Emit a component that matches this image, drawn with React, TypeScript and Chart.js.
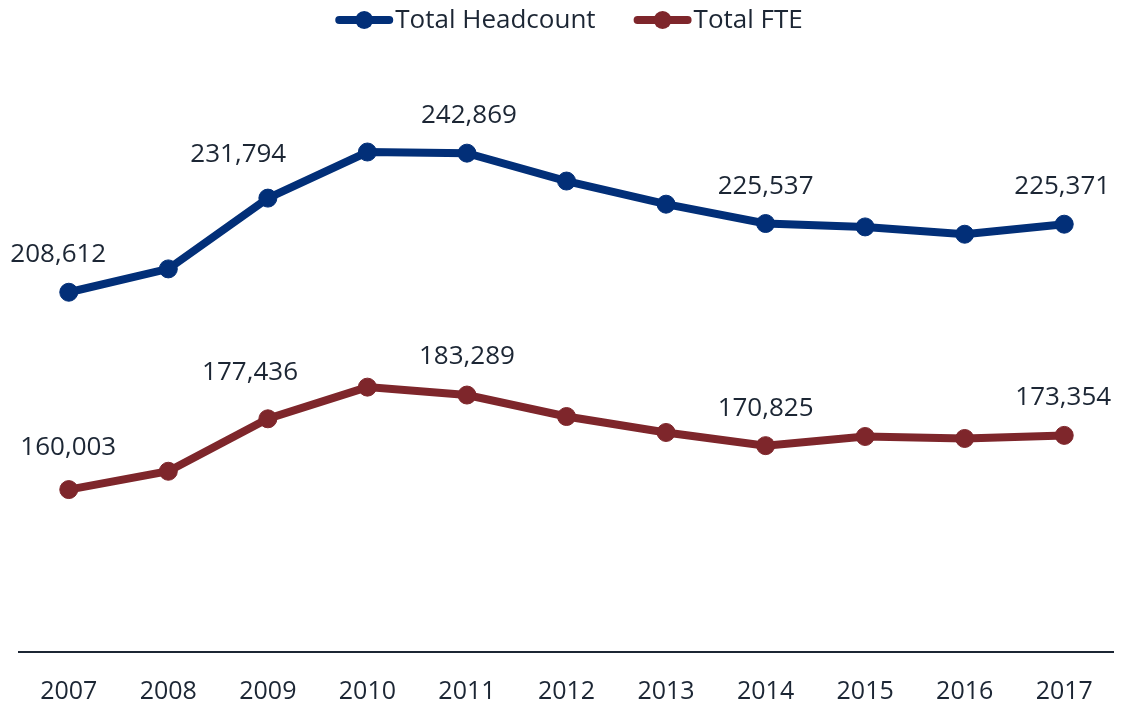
import React, { useEffect, useRef } from "react";
import { Chart, registerables } from "chart.js";

Chart.register(...registerables);

const years = ["2007", "2008", "2009", "2010", "2011", "2012", "2013", "2014", "2015", "2016", "2017"];
const headcount = [208612, 214360, 231794, 243150, 242869, 236000, 230300, 225537, 224700, 222900, 225371];
const fte = [160003, 164518, 177436, 185240, 183289, 178000, 174070, 170825, 173080, 172590, 173354];
const seriesNames = ["Total Headcount", "Total FTE"];
const seriesColors = ["#022F78", "#7E262B"];
const labelledIndexes = [0, 2, 4, 7, 10];

// label offsets (styling) relative to the point: [dx, dy]
const labelOffsets: Record<string, [number, number]> = {
  "0-0": [-10.5, -37.5],
  "0-2": [-29.6, -43.6],
  "0-4": [2, -38],
  "0-7": [0, -37],
  "0-10": [-2, -37.3],
  "1-0": [-0.5, -42],
  "1-2": [-17.8, -46.3],
  "1-4": [0, -38],
  "1-7": [0, -37],
  "1-10": [-1, -38],
};

const TEXT_COLOR = "#1c2634";
const FONT = '"Open Sans", "Noto Sans", sans-serif';

const fmt = (v: number) => v.toLocaleString("en-US");

const valueLabels = {
  id: "valueLabels",
  afterDatasetsDraw(chart: any) {
    const ctx = chart.ctx;
    ctx.save();
    ctx.font = `26px ${FONT}`;
    ctx.fillStyle = TEXT_COLOR;
    ctx.textAlign = "center";
    ctx.textBaseline = "middle";
    chart.data.datasets.forEach((ds: any, di: number) => {
      const meta = chart.getDatasetMeta(di);
      labelledIndexes.forEach((i) => {
        const pt = meta.data[i];
        if (!pt) return;
        const off = labelOffsets[`${di}-${i}`] || [0, -37];
        ctx.fillText(fmt(ds.data[i]), pt.x + off[0], pt.y + off[1]);
      });
    });
    ctx.restore();
  },
};

const topLegend = {
  id: "topLegend",
  afterDraw(chart: any) {
    const ctx = chart.ctx;
    ctx.save();
    ctx.font = `26px ${FONT}`;
    ctx.textBaseline = "middle";
    ctx.textAlign = "left";
    const lineW = 58;
    const gapText = 2;
    const gapItems = 38;
    const items = chart.data.datasets.map((ds: any) => ({
      text: ds.label,
      color: ds.borderColor,
      tw: ctx.measureText(ds.label).width,
    }));
    const total =
      items.reduce((s: number, it: any) => s + lineW + gapText + it.tw, 0) + gapItems * (items.length - 1);
    let x = chart.width / 2 + 8 - total / 2;
    const y = 12;
    items.forEach((it: any) => {
      ctx.strokeStyle = it.color;
      ctx.lineWidth = 8;
      ctx.lineCap = "round";
      ctx.beginPath();
      ctx.moveTo(x + 4, y);
      ctx.lineTo(x + lineW - 4, y);
      ctx.stroke();
      ctx.fillStyle = it.color;
      ctx.beginPath();
      ctx.arc(x + lineW / 2, y, 9, 0, Math.PI * 2);
      ctx.fill();
      ctx.fillStyle = TEXT_COLOR;
      ctx.fillText(it.text, x + lineW + gapText, y + 1);
      x += lineW + gapText + it.tw + gapItems;
    });
    ctx.restore();
  },
};

export default function App() {
  const canvasRef = useRef<HTMLCanvasElement | null>(null);

  useEffect(() => {
    document.body.style.overflow = "hidden";
    let chart: Chart | null = null;
    let cancelled = false;
    const make = () => {
      if (cancelled || !canvasRef.current) return;
      chart = new Chart(canvasRef.current, {
        type: "line",
        data: {
          labels: years,
          datasets: [headcount, fte].map((d, i) => ({
            label: seriesNames[i],
            data: d,
            borderColor: seriesColors[i],
            backgroundColor: seriesColors[i],
            pointBackgroundColor: seriesColors[i],
            pointBorderColor: seriesColors[i],
            borderWidth: 8,
            pointRadius: 9,
            pointBorderWidth: 1,
            tension: 0,
            fill: false,
            clip: false,
          })),
        },
        options: {
          animation: false,
          responsive: true,
          maintainAspectRatio: false,
          layout: { autoPadding: false, padding: { top: 35, left: 11, right: 0, bottom: 0 } },
          plugins: {
            legend: { display: false },
            tooltip: { enabled: false },
          },
          scales: {
            x: {
              offset: true,
              grid: { display: false, drawTicks: false },
              border: { display: true, color: TEXT_COLOR, width: 2 },
              ticks: {
                color: TEXT_COLOR,
                font: { family: FONT, size: 25 },
                padding: 25,
                maxRotation: 0,
              },
              afterFit: (scale: any) => {
                scale.height = 56;
                scale.paddingLeft = 0;
                scale.paddingRight = 0;
              },
            },
            y: {
              display: false,
              min: 120000,
              max: 270000,
            },
          },
        },
        plugins: [valueLabels, topLegend],
      });
    };
    if ((document as any).fonts && (document as any).fonts.load) {
      Promise.all([
        (document as any).fonts.load(`26px "Open Sans"`),
        (document as any).fonts.load(`25px "Open Sans"`),
      ])
        .catch(() => {})
        .then(make);
    } else {
      make();
    }
    return () => {
      cancelled = true;
      if (chart) chart.destroy();
    };
  }, []);

  return (
    <div style={{ width: 1106, height: 700, position: "relative" }}>
      <canvas ref={canvasRef} />
    </div>
  );
}
